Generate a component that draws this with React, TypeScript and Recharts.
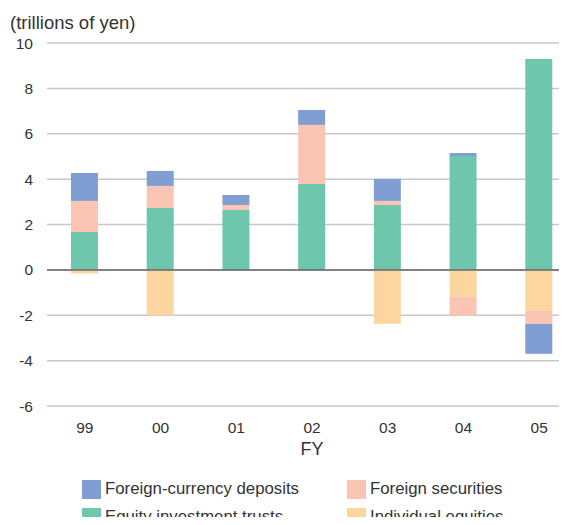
import { BarChart, Bar, XAxis, YAxis, CartesianGrid, ReferenceLine } from "recharts";

// fiscal years
const years = ["99", "00", "01", "02", "03", "04", "05"];

// trillions of yen
const equityTrusts = [1.67, 2.73, 2.64, 3.79, 2.86, 5.02, 9.3];
const individualEquities = [-0.16, -2.0, 0, 0, -2.38, -1.19, -1.81];
const foreignSecurities = [1.37, 0.97, 0.22, 2.6, 0.18, -0.82, -0.57];
const foreignDeposits = [1.23, 0.66, 0.44, 0.66, 0.97, 0.13, -1.32];

const yTicks = [10, 8, 6, 4, 2, 0, -2, -4, -6];

const COLORS = {
  deposits: "#7f9fd3",
  securities: "#fac5b3",
  trusts: "#6ec6ac",
  equities: "#fdd69f",
};

const FONT = "'Liberation Sans', Arial, sans-serif";

const chartData = years.map((fy, i) => ({
  fy,
  trusts: equityTrusts[i],
  equities: individualEquities[i],
  securities: foreignSecurities[i],
  deposits: foreignDeposits[i],
}));

const legendItems = [
  { label: "Foreign-currency deposits", color: COLORS.deposits },
  { label: "Foreign securities", color: COLORS.securities },
  { label: "Equity investment trusts", color: COLORS.trusts },
  { label: "Individual equities", color: COLORS.equities },
];

export default function App() {
  return (
    <div
      style={{
        position: "relative",
        margin: -8,
        width: 567,
        height: 525,
        overflow: "hidden",
        background: "#fff",
        fontFamily: FONT,
        color: "#333",
      }}
    >
      <div style={{ position: "absolute", left: 10, top: 12, fontSize: 18.5 }}>
        (trillions of yen)
      </div>
      <BarChart
        width={577}
        height={470}
        data={chartData}
        stackOffset="sign"
        barSize={27}
        margin={{ top: 43, right: 0, left: 0, bottom: 8 }}
      >
        <CartesianGrid vertical={false} stroke="#c8c8c8" strokeWidth={1.5} />
        <XAxis
          dataKey="fy"
          axisLine={false}
          tickLine={false}
          tickMargin={10}
          height={56}
          tick={{ fontSize: 15.5, fill: "#333", fontFamily: FONT }}
          label={{
            value: "FY",
            position: "insideBottom",
            offset: 7,
            fontSize: 18,
            fill: "#333",
            fontFamily: FONT,
          }}
        />
        <YAxis
          width={47}
          domain={[-6, 10]}
          ticks={yTicks}
          interval={0}
          axisLine={false}
          tickLine={false}
          tickMargin={8}
          tick={{ fontSize: 15.5, fill: "#333", fontFamily: FONT }}
        />
        <Bar dataKey="trusts" stackId="a" fill={COLORS.trusts} isAnimationActive={false} />
        <Bar dataKey="equities" stackId="a" fill={COLORS.equities} isAnimationActive={false} />
        <Bar dataKey="securities" stackId="a" fill={COLORS.securities} isAnimationActive={false} />
        <Bar dataKey="deposits" stackId="a" fill={COLORS.deposits} isAnimationActive={false} />
        <ReferenceLine y={0} stroke="#666" strokeWidth={1.5} />
      </BarChart>
      {/* two-column legend below the plot */}
      <div
        style={{
          position: "absolute",
          left: 82,
          top: 480,
          display: "grid",
          gridTemplateColumns: "265px 200px",
          rowGap: 10,
          fontSize: 16.8,
        }}
      >
        {legendItems.map((it) => (
          <div key={it.label} style={{ display: "flex", alignItems: "center", height: 18 }}>
            <span
              style={{
                width: 19,
                height: 19,
                background: it.color,
                marginRight: 4,
                flexShrink: 0,
              }}
            />
            <span>{it.label}</span>
          </div>
        ))}
      </div>
    </div>
  );
}
